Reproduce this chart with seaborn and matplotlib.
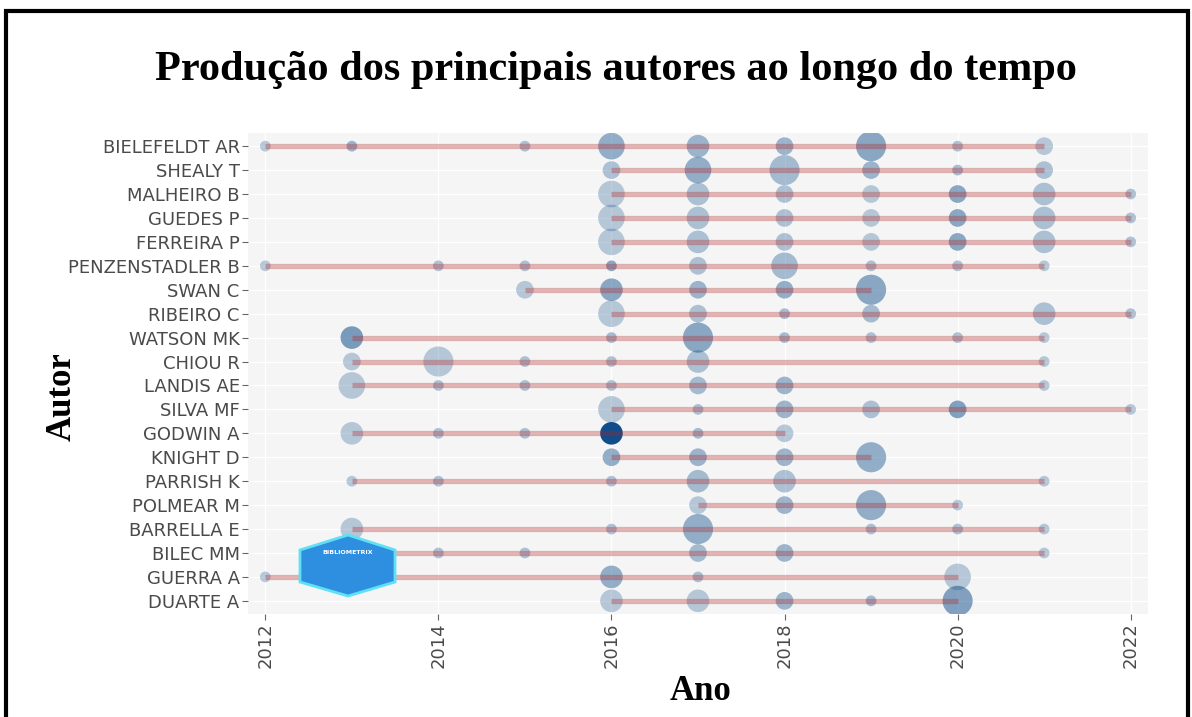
import numpy as np
import pandas as pd
import matplotlib.pyplot as plt
import matplotlib.colors as mcolors
from matplotlib.patches import Rectangle, Polygon
import seaborn as sns

# authors, top to bottom
authors = ["BIELEFELDT AR", "SHEALY T", "MALHEIRO B", "GUEDES P", "FERREIRA P",
           "PENZENSTADLER B", "SWAN C", "RIBEIRO C", "WATSON MK", "CHIOU R",
           "LANDIS AE", "SILVA MF", "GODWIN A", "KNIGHT D", "PARRISH K",
           "POLMEAR M", "BARRELLA E", "BILEC MM", "GUERRA A", "DUARTE A"]

# years with production, one list per author
years = [
    [2012, 2013, 2015, 2016, 2017, 2018, 2019, 2020, 2021],
    [2016, 2017, 2018, 2019, 2020, 2021],
    [2016, 2017, 2018, 2019, 2020, 2021, 2022],
    [2016, 2017, 2018, 2019, 2020, 2021, 2022],
    [2016, 2017, 2018, 2019, 2020, 2021, 2022],
    [2012, 2014, 2015, 2016, 2017, 2018, 2019, 2020, 2021],
    [2015, 2016, 2017, 2018, 2019],
    [2016, 2017, 2018, 2019, 2021, 2022],
    [2013, 2016, 2017, 2018, 2019, 2020, 2021],
    [2013, 2014, 2015, 2016, 2017, 2021],
    [2013, 2014, 2015, 2016, 2017, 2018, 2021],
    [2016, 2017, 2018, 2019, 2020, 2022],
    [2013, 2014, 2015, 2016, 2017, 2018],
    [2016, 2017, 2018, 2019],
    [2013, 2014, 2016, 2017, 2018, 2021],
    [2017, 2018, 2019, 2020],
    [2013, 2016, 2017, 2019, 2020, 2021],
    [2013, 2014, 2015, 2017, 2018, 2021],
    [2012, 2016, 2017, 2020],
    [2016, 2017, 2018, 2019, 2020],
]

# number of articles (marker size)
n_articles = [
    [1, 1, 1, 4, 3, 2, 5, 1, 2],
    [2, 4, 5, 2, 1, 2],
    [4, 3, 2, 2, 2, 3, 1],
    [4, 3, 2, 2, 2, 3, 1],
    [4, 3, 2, 2, 2, 3, 1],
    [1, 1, 1, 1, 2, 4, 1, 1, 1],
    [2, 3, 2, 2, 5],
    [4, 2, 1, 2, 3, 1],
    [3, 1, 5, 1, 1, 1, 1],
    [2, 5, 1, 1, 3, 1],
    [4, 1, 1, 1, 2, 2, 1],
    [4, 1, 2, 2, 2, 1],
    [3, 1, 1, 3, 1, 2],
    [2, 2, 2, 5],
    [1, 1, 1, 3, 3, 1],
    [2, 2, 5, 1],
    [3, 1, 5, 1, 1, 1],
    [1, 1, 1, 2, 2, 1],
    [1, 3, 1, 4],
    [3, 3, 2, 1, 5],
]

# total citations per year (marker opacity)
tc_per_year = [
    [1.5, 3.0, 2.0, 3.5, 3.0, 3.0, 4.0, 2.0, 1.5],
    [2.0, 3.5, 2.5, 3.0, 2.5, 2.0],
    [1.5, 2.0, 2.0, 1.5, 4.0, 2.0, 2.0],
    [1.5, 2.0, 2.0, 1.5, 4.0, 2.0, 2.0],
    [1.5, 2.0, 2.0, 1.5, 4.0, 2.0, 2.0],
    [1.5, 2.0, 2.0, 4.0, 2.0, 2.5, 2.0, 2.0, 1.5],
    [1.5, 4.0, 3.0, 3.5, 4.0],
    [1.5, 2.0, 2.5, 2.5, 2.0, 2.0],
    [5.0, 2.5, 4.0, 2.5, 2.0, 2.0, 1.5],
    [1.5, 1.5, 2.0, 2.0, 2.0, 1.5],
    [1.5, 2.0, 2.0, 2.0, 2.5, 3.0, 1.5],
    [1.5, 2.0, 3.0, 2.0, 4.5, 1.5],
    [1.5, 2.0, 2.0, 11.0, 2.5, 1.5],
    [3.5, 3.0, 3.0, 3.5],
    [1.5, 2.0, 2.0, 2.5, 2.0, 1.5],
    [1.5, 3.0, 3.5, 1.5],
    [1.5, 2.0, 3.5, 2.0, 2.0, 1.5],
    [1.5, 2.0, 2.0, 2.5, 3.0, 1.5],
    [1.5, 3.5, 2.0, 1.5],
    [1.5, 1.5, 3.0, 2.5, 4.5],
]

year_ticks = [2012, 2014, 2016, 2018, 2020, 2022]

rows = []
for i, au in enumerate(authors):
    for y, n, tc in zip(years[i], n_articles[i], tc_per_year[i]):
        rows.append({"author": au, "pos": i, "year": y, "freq": n, "tcpy": tc})
df = pd.DataFrame(rows)

W, H = 1192, 717
fig = plt.figure(figsize=(W / 100, H / 100), dpi=100)
ax = fig.add_axes([248 / W, 1 - 614 / H, (1148 - 248) / W, (614 - 133) / H])
ax.set_facecolor("#F5F5F5")

# dodgerblue4 with alpha going from 0.3 to 1
base = mcolors.to_rgb("#104E8B")
alpha_cmap = mcolors.LinearSegmentedColormap.from_list(
    "blue_alpha", [(*base, 0.28), (*base, 1.0)])

sns.scatterplot(data=df, x="year", y="pos", size="freq", sizes=(60, 470),
                size_norm=(1, 5), hue="tcpy", palette=alpha_cmap,
                hue_norm=(1.5, 11), linewidth=0, legend=False, ax=ax, zorder=2)

# production span per author
span = df.groupby("pos")["year"].agg(["min", "max"])
ax.hlines(span.index, span["min"], span["max"], color="#B22222", alpha=0.33,
          lw=3.8, zorder=3)

ax.set_xlim(2011.8, 2022.2)
ax.set_ylim(len(authors) - 0.45, -0.55)
ax.set_yticks(range(len(authors)))
ax.set_yticklabels(authors)
ax.set_xticks(year_ticks)
ax.set_xticklabels([str(t) for t in year_ticks], rotation=90)
ax.grid(True, color="white", lw=1, zorder=0)
ax.set_axisbelow(True)
for s in ax.spines.values():
    s.set_visible(False)
ax.tick_params(axis="both", colors="#666666", labelcolor="#4a4a4a",
               labelsize=13, length=4, width=0.8, pad=2)
ax.set_xlabel("")
ax.set_ylabel("")

fig.text(616 / W, 1 - 70 / H, "Produção dos principais autores ao longo do tempo",
         ha="center", va="center", fontsize=30.5, fontweight="bold",
         family="Liberation Serif")
fig.text(62 / W, 1 - 397 / H, "Autor", rotation=90, ha="center", va="center",
         fontsize=25, fontweight="bold", family="Liberation Serif")
fig.text(700 / W, 1 - 692 / H, "Ano", ha="center", va="center",
         fontsize=25, fontweight="bold", family="Liberation Serif")

# bibliometrix watermark logo
hx = np.array([348, 395, 395, 348, 300, 300]) / W
hy = 1 - np.array([535, 550, 582, 596, 582, 550]) / H
fig.add_artist(Polygon(np.column_stack([hx, hy]), closed=True,
                       transform=fig.transFigure, facecolor="#2E8FE0",
                       edgecolor="#5FE0F5", lw=2, zorder=5))
fig.text(348 / W, 1 - 552 / H, "BIBLIOMETRIX", ha="center", va="center",
         fontsize=4.5, color="white", fontweight="bold", zorder=6)

# page frame
fig.add_artist(Rectangle((6 / W, -0.02), (1188 - 6) / W, 1 - 11 / H + 0.02,
                         transform=fig.transFigure, fill=False,
                         edgecolor="black", lw=3))

fig.savefig("out.png", dpi=100)
